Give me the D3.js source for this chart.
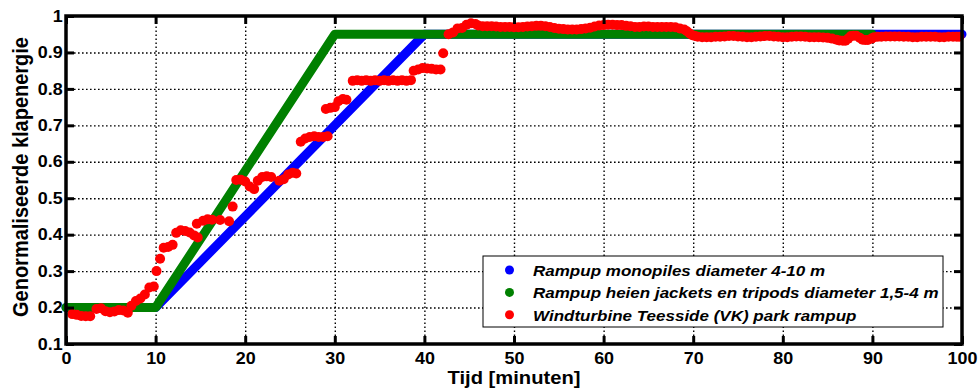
<!DOCTYPE html>
<html>
<head>
<meta charset="utf-8">
<script src="https://cdn.jsdelivr.net/npm/d3@7"></script>
<style>
  body { margin: 0; background: #fff; }
  .d3 text { font-family: "Liberation Sans", Arial, sans-serif; font-weight: bold; fill: #000; }
  .d3__grid line { stroke: #000; stroke-width: 1.4; stroke-dasharray: 1.6, 2.4; }
  .d3__grid path { display: none; }
  .d3__axis path { display: none; }
  .d3__axis line { stroke: #000; stroke-width: 3; }
  .d3__frame { fill: none; stroke: #000; stroke-width: 3.5; }
</style>
</head>
<body>
<div id="chart"></div>
<script>
"use strict";

// tijdas en labels
var xTicks = [0, 10, 20, 30, 40, 50, 60, 70, 80, 90, 100];
var xTickLabels = ["0", "10", "20", "30", "40", "50", "60", "70", "80", "90", "100"];
var yTicks = [0.1, 0.2, 0.3, 0.4, 0.5, 0.6, 0.7, 0.8, 0.9, 1];
var yTickLabels = ["0.1", "0.2", "0.3", "0.4", "0.5", "0.6", "0.7", "0.8", "0.9", "1"];

var seriesNames = [
  "Rampup monopiles diameter 4-10 m",
  "Rampup heien jackets en tripods diameter 1,5-4 m",
  "Windturbine Teesside (VK) park rampup"
];
var seriesColors = ["#0000ff", "#008000", "#ff0000"];

// monopiles
var blueTime = [0, 10, 40, 100];
var blueValue = [0.2, 0.2, 0.95, 0.95];

// jackets / tripods
var greenTime = [0, 10, 30, 90];
var greenValue = [0.2, 0.2, 0.95, 0.95];

var redTime = [
  0.7, 1.2, 1.7, 2.2, 2.7, 3.4, 3.9, 4.4, 4.9, 5.4, 5.9, 6.4, 6.9, 7.3, 7.8, 8.3, 8.8, 9.3, 9.8,
  10.1, 10.5, 10.9, 11.4, 11.9, 12.3, 12.8, 13.3, 13.8, 14.3, 14.6, 14.7, 15.3, 15.8, 16.3, 17.2,
  18.2, 18.6, 19.0, 19.5, 20.0, 20.5, 21.0, 21.4, 21.9, 22.4, 22.9, 23.8, 24.3, 24.8, 25.3, 25.7,
  26.2, 26.7, 27.2, 27.7, 28.2, 28.7, 29.0, 29.2, 29.5, 30.0, 30.4, 30.9, 31.3,
  32.0, 32.5, 33.0, 33.5, 34.0, 34.5, 35.0, 35.5, 36.0, 36.5, 37.0, 37.5, 38.0, 38.5,
  38.8, 39.3, 39.8, 40.3, 40.8, 41.3, 41.8, 42.1, 42.7, 43.2, 43.7, 44.2, 44.7, 45.2, 45.7,
  46.0, 46.5, 47.0, 47.5, 48.0, 48.5, 49.0, 49.5, 50.0, 50.5, 51.0, 51.5, 52.0, 52.5, 53.0, 53.5,
  54.0, 54.5, 55.0, 55.5, 56.0, 56.5, 57.0, 57.5, 58.0, 58.5, 59.0, 59.5, 60.0, 60.5, 61.0, 61.5,
  62.0, 62.5, 63.0, 63.5, 64.0, 64.5, 65.0, 65.5, 66.0, 66.5, 67.0, 67.5, 68.0, 68.5, 69.0, 69.3,
  69.6, 69.9, 70.2, 70.5, 71.0, 71.5, 72.0, 72.5, 73.0, 73.5, 74.0, 74.5, 75.0, 75.5, 76.0, 76.5,
  77.0, 77.5, 78.0, 78.5, 79.0, 79.5, 80.0, 80.5, 81.0, 81.5, 82.0, 82.5, 83.0, 83.5, 84.0, 84.5,
  85.0, 85.5, 86.0, 86.3, 86.7, 87.0, 87.3, 87.6, 87.9, 88.2, 88.6, 88.9, 89.2, 89.5, 89.9, 90.2,
  90.6, 91.0, 91.5, 92.0, 92.5, 93.0, 93.5, 94.0, 94.5, 95.0, 95.5, 96.0, 96.5, 97.0, 97.5, 98.0,
  98.5, 99.0, 99.4, 99.7
];
var redValue = [
  0.182, 0.180, 0.177, 0.176, 0.176, 0.196, 0.198, 0.190, 0.187, 0.189, 0.193, 0.192, 0.186, 0.205, 0.218, 0.225, 0.236, 0.255, 0.258,
  0.300, 0.334, 0.364, 0.366, 0.372, 0.405, 0.412, 0.410, 0.406, 0.398, 0.430, 0.392, 0.438, 0.442, 0.441, 0.440,
  0.437, 0.477, 0.550, 0.551, 0.546, 0.532, 0.525, 0.548, 0.558, 0.560, 0.558, 0.548, 0.552, 0.565, 0.570, 0.568,
  0.655, 0.664, 0.668, 0.670, 0.668, 0.668, 0.745, 0.670, 0.748, 0.750, 0.766, 0.772, 0.770,
  0.822, 0.824, 0.822, 0.824, 0.822, 0.824, 0.822, 0.824, 0.822, 0.824, 0.822, 0.824, 0.822, 0.824,
  0.850, 0.853, 0.857, 0.856, 0.855, 0.853, 0.853, 0.898, 0.950, 0.955, 0.966, 0.967, 0.976, 0.980, 0.978,
  0.974, 0.972, 0.972, 0.972, 0.971, 0.970, 0.970, 0.970, 0.969, 0.969, 0.970, 0.971, 0.972, 0.973, 0.973, 0.972,
  0.970, 0.967, 0.965, 0.964, 0.963, 0.963, 0.963, 0.964, 0.966, 0.968, 0.971, 0.974, 0.975, 0.976, 0.976, 0.975,
  0.975, 0.973, 0.972, 0.970, 0.970, 0.971, 0.971, 0.970, 0.970, 0.970, 0.970, 0.970, 0.969, 0.966, 0.963, 0.958,
  0.952, 0.947, 0.945, 0.943, 0.942, 0.942, 0.942, 0.943, 0.943, 0.944, 0.945, 0.945, 0.944, 0.943, 0.942, 0.942,
  0.943, 0.944, 0.945, 0.945, 0.944, 0.943, 0.942, 0.942, 0.943, 0.944, 0.944, 0.943, 0.942, 0.942, 0.942, 0.941,
  0.940, 0.938, 0.935, 0.933, 0.932, 0.932, 0.938, 0.945, 0.946, 0.946, 0.940, 0.935, 0.934, 0.934, 0.938, 0.942,
  0.943, 0.943, 0.944, 0.944, 0.944, 0.944, 0.943, 0.943, 0.942, 0.942, 0.943, 0.943, 0.943, 0.943, 0.942, 0.942,
  0.943, 0.943, 0.943, 0.943
];

var width = 979;
var height = 390;
var plotLeft = 66;
var plotRight = 962;
var plotTop = 16;
var plotBottom = 344;
var textStretch = 1.12; // de bron is iets breed uitgerekt

var svg = d3.select('#chart')
            .append('svg')
            .attr('class', 'd3')
            .attr('width', width)
            .attr('height', height);

var scaleX = d3.scaleLinear()
              .domain([0, 100])
              .range([plotLeft, plotRight]);
var scaleY = d3.scaleLinear()
              .domain([0.1, 1])
              .range([plotBottom, plotTop]);

// rooster
svg.append('g')
  .attr('class', 'd3__grid')
  .attr('transform', 'translate(0,' + plotBottom + ')')
  .call(d3.axisBottom(scaleX).tickValues(xTicks.slice(1, -1)).tickSize(-(plotBottom - plotTop)).tickFormat(''));
svg.append('g')
  .attr('class', 'd3__grid')
  .attr('transform', 'translate(' + plotLeft + ',0)')
  .call(d3.axisLeft(scaleY).tickValues(yTicks.slice(1, -1)).tickSize(-(plotRight - plotLeft)).tickFormat(''));

// lijnen (dicht opeengepakte markers in het origineel)
var line = d3.line()
  .x(function(d) { return scaleX(d[0]); })
  .y(function(d) { return scaleY(d[1]); });

function pairs(t, v) {
  return t.map(function(d, i) { return [d, v[i]]; });
}

svg.append('path')
  .attr('d', line(pairs(blueTime, blueValue)))
  .attr('fill', 'none')
  .attr('stroke', seriesColors[0])
  .attr('stroke-width', 9)
  .attr('stroke-linecap', 'round')
  .attr('stroke-linejoin', 'round');

svg.append('path')
  .attr('d', line(pairs(greenTime, greenValue)))
  .attr('fill', 'none')
  .attr('stroke', seriesColors[1])
  .attr('stroke-width', 9)
  .attr('stroke-linecap', 'round')
  .attr('stroke-linejoin', 'round');

svg.append('g')
  .selectAll('circle')
  .data(pairs(redTime, redValue))
  .enter().append('circle')
  .attr('cx', function(d) { return scaleX(d[0]); })
  .attr('cy', function(d) { return scaleY(d[1]); })
  .attr('r', 5)
  .attr('fill', seriesColors[2]);

// assen met ticks naar binnen
var xAxis = d3.axisBottom(scaleX)
              .tickValues(xTicks)
              .tickSize(-8)
              .tickPadding(9)
              .tickFormat(function(d, i) { return xTickLabels[i]; });
var yAxis = d3.axisLeft(scaleY)
              .tickValues(yTicks)
              .tickSize(-8)
              .tickPadding(3)
              .tickFormat(function(d, i) { return yTickLabels[i]; });

var gX = svg.append('g')
  .attr('class', 'd3__axis')
  .attr('transform', 'translate(0,' + plotBottom + ')')
  .call(xAxis);
var gY = svg.append('g')
  .attr('class', 'd3__axis')
  .attr('transform', 'translate(' + plotLeft + ',0)')
  .call(yAxis);
svg.append('g')
  .attr('class', 'd3__axis')
  .attr('transform', 'translate(0,' + plotTop + ')')
  .call(d3.axisTop(scaleX).tickValues(xTicks).tickSize(-8).tickFormat(''));
svg.append('g')
  .attr('class', 'd3__axis')
  .attr('transform', 'translate(' + plotRight + ',0)')
  .call(d3.axisRight(scaleY).tickValues(yTicks).tickSize(-8).tickFormat(''));

gX.selectAll('text')
  .attr('font-size', 16)
  .attr('font-family', null)
  .attr('transform', 'scale(' + textStretch + ',1)');
gY.selectAll('text')
  .attr('font-size', 16)
  .attr('font-family', null)
  .attr('transform', 'scale(' + textStretch + ',1)');

svg.append('rect')
  .attr('class', 'd3__frame')
  .attr('x', plotLeft)
  .attr('y', plotTop)
  .attr('width', plotRight - plotLeft)
  .attr('height', plotBottom - plotTop);

// astitels
svg.append('text')
  .attr('transform', 'translate(' + ((plotLeft + plotRight) / 2) + ',384) scale(' + textStretch + ',1)')
  .attr('text-anchor', 'middle')
  .attr('font-size', 18)
  .text('Tijd [minuten]');

svg.append('text')
  .attr('transform', 'translate(28,177) scale(' + textStretch + ',1) rotate(-90)')
  .attr('text-anchor', 'middle')
  .attr('font-size', 20)
  .text('Genormaliseerde klapenergie');

// legenda
var legend = svg.append('g').attr('class', 'd3__legend');
legend.append('rect')
  .attr('x', 483)
  .attr('y', 256)
  .attr('width', 460)
  .attr('height', 71)
  .attr('fill', '#fff')
  .attr('stroke', '#000')
  .attr('stroke-width', 1);

seriesNames.forEach(function(name, i) {
  var rowY = 270 + i * 22.4;
  legend.append('circle')
    .attr('cx', 509.5)
    .attr('cy', rowY)
    .attr('r', 4.5)
    .attr('fill', seriesColors[i]);
  legend.append('text')
    .attr('transform', 'translate(533,' + (rowY + 6) + ') scale(' + textStretch + ',1)')
    .attr('font-size', 15.2)
    .attr('font-style', 'italic')
    .text(name);
});
</script>
</body>
</html>
